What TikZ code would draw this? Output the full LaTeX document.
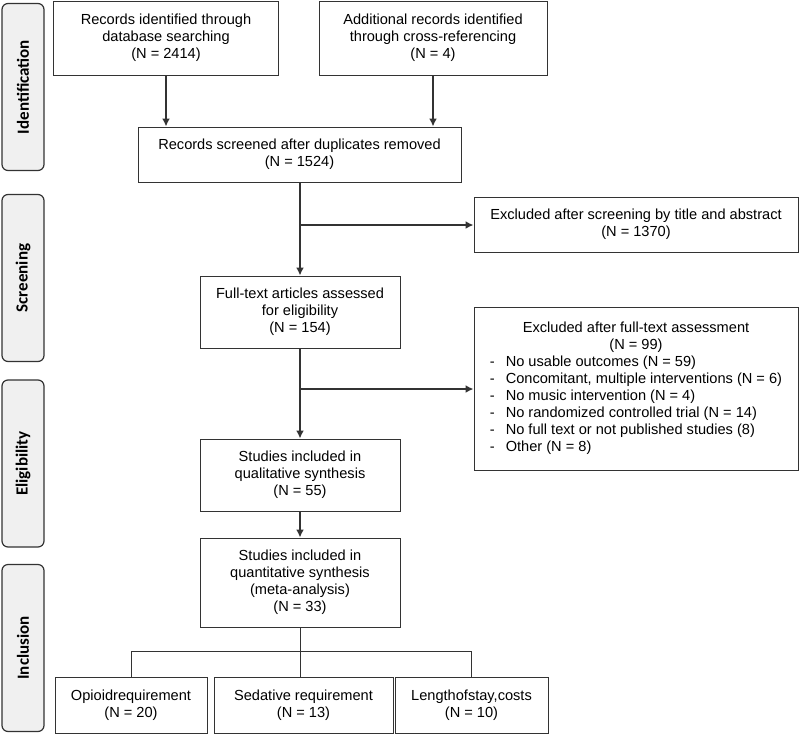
\documentclass[tikz,border=0pt]{standalone}
\usepackage{fontspec}
\setmainfont{Liberation Sans}
\newfontfamily\sidefont{Carlito}
\usepackage{tikz}
\usetikzlibrary{calc,arrows.meta}

\definecolor{linegray}{HTML}{333333}
\definecolor{sidegray}{HTML}{F0F0F0}

\begin{document}
\begin{tikzpicture}[x=1pt,y=-1pt,
    box/.style={draw=linegray,line width=1pt,inner sep=0pt,align=center,
                font=\fontsize{14.6}{16.9}\selectfont},
    phase/.style={draw=linegray,line width=1.2pt,fill=sidegray,rounded corners=6pt,
                  minimum width=42pt,minimum height=167pt,inner sep=0pt,
                  font=\sidefont\bfseries\fontsize{17}{18}\selectfont},
    flow/.style={-{Latex[length=8pt,width=8pt]},linegray,line width=1.6pt},
    link/.style={linegray,line width=1pt}]
                 \useasboundingbox (0,0) rectangle (800,734);
                 % phases
                 \node[phase](pid)at(23,87){\rotatebox{90}{Identification}};
                 \node[phase](pscr)at(23,278){\rotatebox{90}{Screening}};
                 \node[phase](pelig)at(23,463.5){\rotatebox{90}{Eligibility}};
                 \node[phase](pinc)at(23,648){\rotatebox{90}{Inclusion}};
                 % boxes
                 \node[box,minimum width=225pt,minimum height=74pt](db)at(166,38){Records identified through\\database searching\\(N = 2414)};
                 \node[box,minimum width=228pt,minimum height=74pt](xref)at(433,38){Additional records identified\\through cross-referencing\\(N = 4)};
                 \node[box,minimum width=323pt,minimum height=55pt](scr)at(299.5,154.5){Records screened after duplicates removed\\(N = 1524)};
                 \node[box,minimum width=324pt,minimum height=55pt](exa)at(636,224.5){Excluded after screening by title and abstract\\(N = 1370)};
                 \node[box,minimum width=200pt,minimum height=72pt](full)at(300,312){Full-text articles assessed\\for eligibility\\(N = 154)};
                 \node[box,minimum width=324pt,minimum height=163pt](exb)at(636,388.5){%
                   \begin{tabular}{@{}l@{\hspace{11pt}}l@{}}
                   \multicolumn{2}{c}{Excluded after full-text assessment}\\
                   \multicolumn{2}{c}{(N = 99)}\\
                   - & No usable outcomes (N = 59)\\
                   - & Concomitant, multiple interventions (N = 6)\\
                   - & No music intervention (N = 4)\\
                   - & No randomized controlled trial (N = 14)\\
                   - & No full text or not published studies (8)\\
                   - & Other (N = 8)
                   \end{tabular}};
                 \node[box,minimum width=200pt,minimum height=72pt](qual)at(300,475){Studies included in\\qualitative synthesis\\(N = 55)};
                 \node[box,minimum width=200pt,minimum height=89pt](quant)at(300,582.5){Studies included in\\quantitative synthesis\\(meta-analysis)\\(N = 33)};
                 \node[box,minimum width=152pt,minimum height=56pt](opi)at(131,705){Opioidrequirement\\(N = 20)};
                 \node[box,minimum width=179pt,minimum height=56pt](sed)at(303.5,705){Sedative requirement\\(N = 13)};
                 \node[box,minimum width=153pt,minimum height=56pt](los)at(471.5,705){Lengthofstay,costs\\(N = 10)};
                 % connectors
                 \coordinate (splita) at (300,225);
                 \coordinate (splitb) at (300,389);
                 \coordinate (fork) at (300,651);
                 \draw[flow](db)--(db|-scr.north);
                 \draw[flow](xref)--(xref|-scr.north);
                 \draw[flow](scr.south-|full.north)--(full.north);
                 \draw[flow](splita)--(splita-|exa.west);
                 \draw[flow](full)--(qual);
                 \draw[flow](splitb)--(splitb-|exb.west);
                 \draw[flow](qual)--(quant);
                 \draw[link](quant.south-|fork)--(fork|-sed.north);
                 \draw[link](opi.north)|-(fork)-|(los.north);
               \end{tikzpicture}
\end{document}
